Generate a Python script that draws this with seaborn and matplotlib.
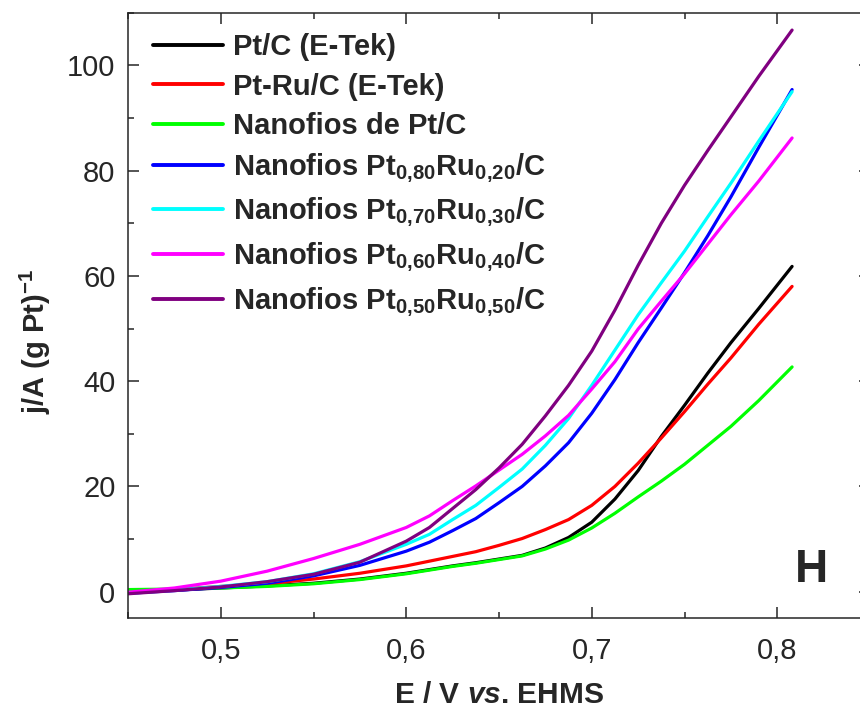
import numpy as np
import pandas as pd
import matplotlib
matplotlib.use('Agg')
import matplotlib.pyplot as plt
from matplotlib.ticker import MultipleLocator, FuncFormatter
import seaborn as sns

# potential (V vs. EHMS)
E = [0.45, 0.475, 0.50, 0.525, 0.55, 0.575, 0.60, 0.6125, 0.625, 0.6375,
     0.65, 0.6625, 0.675, 0.6875, 0.70, 0.7125, 0.725, 0.7375, 0.75, 0.7625,
     0.775, 0.79, 0.808]

# j/A (g Pt)^-1
pt_etek = [0.0, 0.3, 0.7, 1.1, 1.6, 2.4, 3.5, 4.2, 4.9, 5.5,
           6.2, 6.9, 8.3, 10.3, 13.2, 17.6, 23.0, 29.5, 35.4, 41.5,
           47.3, 53.8, 61.8]
ptru_etek = [-0.1, 0.4, 1.0, 1.5, 2.4, 3.5, 4.9, 5.8, 6.7, 7.6,
             8.8, 10.1, 11.8, 13.7, 16.4, 20.0, 24.4, 29.2, 34.2, 39.4,
             44.4, 50.8, 58.0]
nf_pt = [0.4, 0.5, 0.7, 1.0, 1.5, 2.3, 3.4, 4.1, 4.8, 5.4,
         6.1, 6.8, 8.1, 9.8, 12.1, 14.9, 18.0, 21.0, 24.2, 27.8,
         31.4, 36.3, 42.7]
nf_pt80 = [-0.3, 0.2, 0.8, 1.6, 3.0, 5.0, 7.7, 9.4, 11.6, 13.9,
           16.9, 20.0, 23.9, 28.3, 33.9, 40.3, 47.3, 53.9, 60.6, 67.6,
           75.0, 84.4, 95.4]
nf_pt70 = [-0.3, 0.3, 1.0, 1.9, 3.4, 5.7, 9.0, 10.9, 13.7, 16.4,
           19.8, 23.3, 27.8, 32.9, 39.2, 45.9, 52.6, 58.7, 64.7, 71.2,
           77.6, 85.6, 95.0]
nf_pt60 = [-0.1, 0.7, 2.0, 3.9, 6.3, 9.0, 12.2, 14.4, 17.3, 20.1,
           23.1, 26.1, 29.6, 33.5, 38.5, 43.7, 49.9, 55.2, 60.4, 66.0,
           71.6, 78.0, 86.2]
nf_pt50 = [-0.4, 0.2, 0.9, 1.9, 3.3, 5.6, 9.6, 12.2, 15.8, 19.4,
           23.5, 28.0, 33.4, 39.2, 45.7, 53.5, 62.0, 70.0, 77.2, 83.8,
           90.2, 97.9, 106.7]

labels = ['Pt/C (E-Tek)', 'Pt-Ru/C (E-Tek)', 'Nanofios de Pt/C',
          r'Nanofios Pt$_{0{,}80}$Ru$_{0{,}20}$/C',
          r'Nanofios Pt$_{0{,}70}$Ru$_{0{,}30}$/C',
          r'Nanofios Pt$_{0{,}60}$Ru$_{0{,}40}$/C',
          r'Nanofios Pt$_{0{,}50}$Ru$_{0{,}50}$/C']
series = [pt_etek, ptru_etek, nf_pt, nf_pt80, nf_pt70, nf_pt60, nf_pt50]
colors = ['#000000', '#ff0000', '#00ff00', '#0000ff', '#00ffff', '#ff00ff', '#800080']

sns.set_style('ticks')
plt.rcParams['font.family'] = ['Liberation Sans', 'DejaVu Sans']
plt.rcParams['mathtext.fontset'] = 'custom'
plt.rcParams['mathtext.rm'] = 'Liberation Sans:bold'
plt.rcParams['mathtext.it'] = 'Liberation Sans:bold:italic'
plt.rcParams['mathtext.bf'] = 'Liberation Sans:bold'
plt.rcParams['mathtext.default'] = 'rm'

fig = plt.figure(figsize=(8.6, 7.08), dpi=100)
ax = fig.add_axes([128 / 860, 90 / 708, 742 / 860, 605.3 / 708])

for name, vals, c in zip(labels, series, colors):
    sns.lineplot(x=E, y=vals, color=c, label=name, linewidth=2.3, ax=ax, sort=False)

ax.set_xlim(0.45, 0.85)
ax.set_ylim(-5, 110)
ax.xaxis.set_major_locator(MultipleLocator(0.1))
ax.xaxis.set_minor_locator(MultipleLocator(0.05))
ax.yaxis.set_major_locator(MultipleLocator(20))
ax.yaxis.set_minor_locator(MultipleLocator(10))
ax.xaxis.set_major_formatter(FuncFormatter(lambda v, p: f'{v:.1f}'.replace('.', ',')))
ax.tick_params(which='both', direction='in', top=True, right=True, width=1.1,
               labelsize=21, pad=9)
ax.tick_params(axis='x', which='both', pad=14)
ax.tick_params(which='major', length=8)
ax.tick_params(which='minor', length=4)
for s in ax.spines.values():
    s.set_linewidth(1.1)

ax.set_xlabel(r'E / V $\mathit{vs}$. EHMS', fontsize=21.5, fontweight='bold')
ax.xaxis.set_label_coords(0.5, -0.104)
ax.xaxis.label.set_verticalalignment('top')
ax.set_ylabel('')
fig.text(35 / 860, 1 - 341 / 708, r'j/A (g Pt)$^{-1}$', rotation=90,
         ha='center', va='center', fontsize=21, fontweight='bold')

fig.text(811 / 860, 138 / 708, 'H', fontsize=33, fontweight='bold',
         ha='center', va='center')

leg = ax.legend(loc='upper left', bbox_to_anchor=(0.034, 0.966), frameon=False,
                prop={'weight': 'bold', 'size': 21}, handlelength=2.4,
                handletextpad=0.34, labelspacing=0.39, borderpad=0, borderaxespad=0)
for line in leg.get_lines():
    line.set_linewidth(2.8)

fig.savefig('out.png', dpi=100)
